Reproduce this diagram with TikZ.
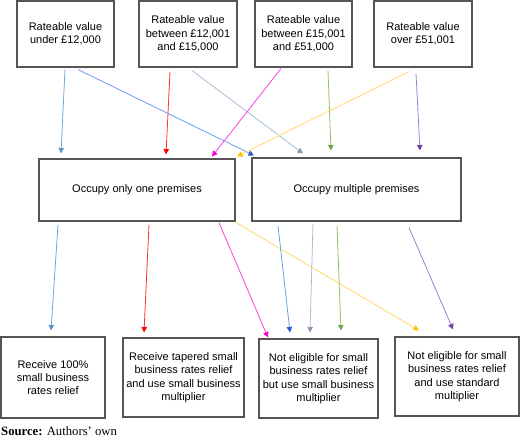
\documentclass[tikz,border=0pt]{standalone}
\usepackage{fontspec}
\setmainfont{Liberation Sans}
\newfontfamily\srcfont{Liberation Serif}
\usetikzlibrary{arrows.meta}
\definecolor{boxgray}{HTML}{555555}
\definecolor{cLB}{HTML}{6FA8DC}\definecolor{cLBd}{HTML}{5B95D0}
\definecolor{cB}{HTML}{6D9EEB}\definecolor{cBd}{HTML}{2A5BD7}
\definecolor{cR}{HTML}{FF3030}\definecolor{cRd}{HTML}{FF0000}
\definecolor{cG}{HTML}{A7BDD1}\definecolor{cGd}{HTML}{8098B0}
\definecolor{cM}{HTML}{FF40E0}\definecolor{cMd}{HTML}{FF00CC}
\definecolor{cGr}{HTML}{8BC26A}\definecolor{cGrd}{HTML}{6AA84F}
\definecolor{cY}{HTML}{FFD966}\definecolor{cYd}{HTML}{FFC000}
\definecolor{cP}{HTML}{9F7FCC}\definecolor{cPd}{HTML}{6A3FA5}
\begin{document}
\begin{tikzpicture}[x=1pt,y=-1pt,
  box/.style={draw=boxgray, line width=1.1pt, align=center, inner sep=0pt,
    font=\fontsize{11}{13.4}\selectfont},
  ar/.style 2 args={draw=#1, line width=0.8pt,
    -{Triangle[length=5.5pt,width=5.5pt,color=#2]}}]
\useasboundingbox (0,0) rectangle (520,441);
% top row
\node[box, minimum width=97pt, minimum height=66pt] (A) at (65.5,34) {Rateable value\\under £12,000};
\node[box, minimum width=98pt, minimum height=66pt] (B) at (188,34) {Rateable value\\between £12,001\\and £15,000};
\node[box, minimum width=97pt, minimum height=66pt] (C) at (303.5,34) {Rateable value\\between £15,001\\and £51,000};
\node[box, minimum width=98pt, minimum height=66pt] (D) at (423,34) {Rateable value\\over £51,001};
% middle row
\node[box, minimum width=196pt, minimum height=62pt] (M1) at (137,190) {Occupy only one premises};
\node[box, minimum width=209pt, minimum height=63pt] (M2) at (356.5,189.5) {Occupy multiple premises};
% bottom row
\node[box, minimum width=104pt, minimum height=81pt] (R1) at (53,377.5) {Receive 100\%\\small business\\rates relief};
\node[box, minimum width=121pt, minimum height=79pt] (R2) at (183.5,377.5) {Receive tapered small\\business rates relief\\and use small business\\multiplier};
\node[box, minimum width=119pt, minimum height=79pt] (R3) at (318.5,378.5) {Not eligible for small\\business rates relief\\but use small business\\multiplier};
\node[box, minimum width=124pt, minimum height=79pt] (R4) at (457,376.5) {Not eligible for small\\business rates relief\\and use standard\\multiplier};
% source
\node[anchor=base west, inner sep=0pt, font=\srcfont\fontsize{12.7}{15}\selectfont] (src) at (1,435) {\textbf{Source:} Authors’ own};
% top -> middle
\draw[ar={cLB}{cLBd}] ([xshift=-0.5pt,yshift=-2pt]A.south) -- ([xshift=-76pt,yshift=5pt]M1.north);
\draw[ar={cB}{cBd}] ([xshift=12.5pt,yshift=-2pt]A.south) -- ([xshift=-102.5pt,yshift=2pt]M2.north);
\draw[ar={cR}{cRd}] ([xshift=-18pt,yshift=-4pt]B.south) -- ([xshift=29pt,yshift=4pt]M1.north);
\draw[ar={cG}{cGd}] ([xshift=4pt,yshift=-3pt]B.south) -- ([xshift=-53.5pt,yshift=4pt]M2.north);
\draw[ar={cM}{cMd}] ([xshift=-22.5pt,yshift=-1pt]C.south) -- ([xshift=75pt,yshift=2pt]M1.north);
\draw[ar={cGr}{cGrd}] ([xshift=24.5pt,yshift=-3pt]C.south) -- ([xshift=-25.5pt,yshift=7pt]M2.north);
\draw[ar={cY}{cYd}] ([xshift=-14pt,yshift=-4pt]D.south) -- ([xshift=100pt,yshift=2pt]M1.north);
\draw[ar={cP}{cPd}] ([xshift=-7pt,yshift=-6pt]D.south) -- ([xshift=63.5pt,yshift=7pt]M2.north);
% middle -> bottom
\draw[ar={cLB}{cLBd}] ([xshift=-79pt,yshift=-3pt]M1.south) -- ([xshift=-2pt,yshift=6pt]R1.north);
\draw[ar={cR}{cRd}] ([xshift=12pt,yshift=-3pt]M1.south) -- ([xshift=-39.5pt,yshift=5pt]R2.north);
\draw[ar={cM}{cMd}] ([xshift=82pt,yshift=-1pt]M1.south) -- ([xshift=-50.5pt,yshift=1pt]R3.north);
\draw[ar={cY}{cYd}] ([xshift=99pt,yshift=-1pt]M1.south) -- ([xshift=-38pt,yshift=6pt]R4.north);
\draw[ar={cB}{cBd}] ([xshift=-78.5pt,yshift=-4pt]M2.south) -- ([xshift=-28.5pt,yshift=6pt]R3.north);
\draw[ar={cG}{cGd}] ([xshift=-43.5pt,yshift=-2pt]M2.south) -- ([xshift=-8.5pt,yshift=6pt]R3.north);
\draw[ar={cGr}{cGrd}] ([xshift=-19.5pt,yshift=-4pt]M2.south) -- ([xshift=22.5pt,yshift=8pt]R3.north);
\draw[ar={cP}{cPd}] ([xshift=52.5pt,yshift=-6pt]M2.south) -- ([xshift=-4pt,yshift=7pt]R4.north);
\end{tikzpicture}
\end{document}
